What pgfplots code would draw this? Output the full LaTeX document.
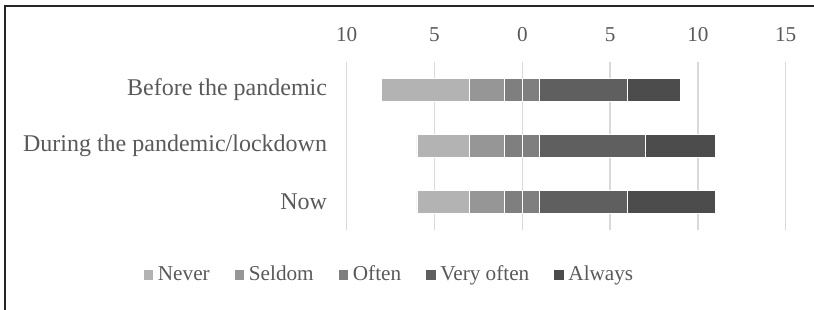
\documentclass[border=0pt]{standalone}
\usepackage{fontspec}
\setmainfont{Liberation Serif}
\usepackage{pgfplots}
\pgfplotsset{compat=1.18}
\definecolor{txt}{HTML}{595959}
\definecolor{gridc}{HTML}{D9D9D9}
\definecolor{frame}{HTML}{262626}
\definecolor{cNever}{HTML}{B3B3B3}
\definecolor{cSeldom}{HTML}{969696}
\definecolor{cOften}{HTML}{7F7F7F}
\definecolor{cVery}{HTML}{5F5F5F}
\definecolor{cAlways}{HTML}{4C4C4C}
\begin{document}
\begin{tikzpicture}
\path[use as bounding box] (0,0) rectangle (407pt,155pt);
\begin{axis}[
  at={(173.35pt,40pt)}, anchor=south west,
  scale only axis, width=219.5pt, height=84.15pt,
  xbar stacked, stack negative=on previous, bar width=11.2pt,
  xmin=-10, xmax=15, ymin=0.5, ymax=3.5,
  xtick={-10,-5,0,5,10,15}, xticklabels={10,5,0,5,10,15},
  xticklabel pos=top,
  ytick={1,2,3},
  yticklabels={Now, During the pandemic/lockdown, Before the pandemic},
  axis line style={draw=none}, major tick length=0pt,
  xmajorgrids, grid style={color=gridc, line width=0.75pt},
  /pgf/number format/assume math mode=true,
  xticklabel style={font=\fontsize{10.6}{12}\selectfont, text=txt, yshift=6.3pt},
  yticklabel style={font=\fontsize{12}{14}\selectfont, text=txt, xshift=-6.3pt},
  every axis plot/.append style={draw=white, line width=0.4pt},
  legend image code/.code={\fill[#1] (0pt,-2.6pt) rectangle (5.2pt,2.6pt);},
  legend columns=-1,
  legend style={draw=none, fill=none, at={(0.0986,-0.267)}, anchor=center,
    font=\fontsize{10.6}{12}\selectfont, text=txt,
    /tikz/every even column/.append style={column sep=10pt}},
]
\addplot[draw=none, fill=none, forget plot] coordinates {(-6,1) (-6,2) (-8,3)};
\addplot[fill=cNever] coordinates {(3,1) (3,2) (5,3)};
\addplot[fill=cSeldom] coordinates {(2,1) (2,2) (2,3)};
\addplot[fill=cOften] coordinates {(1,1) (1,2) (1,3)};
\addplot[fill=cOften, forget plot] coordinates {(1,1) (1,2) (1,3)};
\addplot[fill=cVery] coordinates {(5,1) (6,2) (5,3)};
\addplot[fill=cAlways] coordinates {(5,1) (4,2) (3,3)};
\legend{Never, Seldom, Often, Very often, Always}
\end{axis}
\draw[line width=1pt, color=frame] (2.25pt,0pt) -- (2.25pt,152pt) -- (407pt,152pt);
\end{tikzpicture}
\end{document}
